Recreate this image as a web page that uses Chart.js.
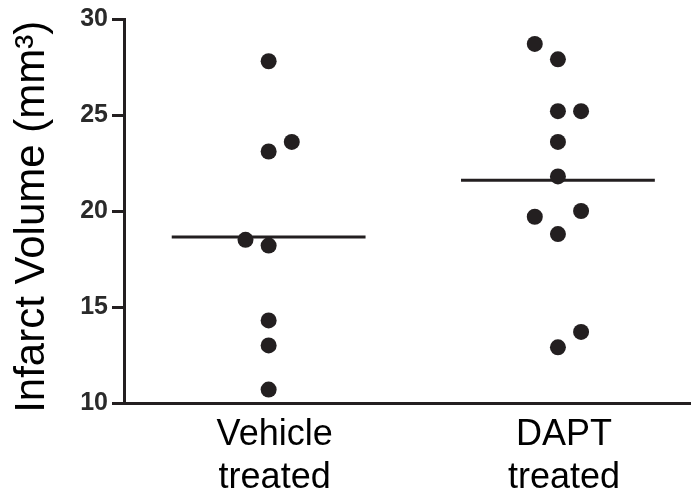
<!DOCTYPE html>
<html>
<head>
<meta charset="utf-8">
<script src="https://cdn.jsdelivr.net/npm/chart.js@4"></script>
<style>
  html, body { margin: 0; padding: 0; background: #fff; }
  #wrap { width: 691px; height: 496px; }
</style>
</head>
<body>
<div id="wrap"><canvas id="chart" width="691" height="496"></canvas></div>
<script>
// groups on the x axis (position 1 and 2)
const categories = [['Vehicle', 'treated'], ['DAPT', 'treated']];

// infarct volumes (mm3)
const vehicleValues = [27.8, 23.1, 23.6, 18.5, 18.2, 14.3, 13.0, 10.7];
const vehicleSpread = [0, 0, 0.08, -0.08, 0, 0, 0, 0];
const daptValues = [28.7, 27.9, 25.2, 25.2, 23.6, 21.8, 19.7, 20.0, 18.8, 13.7, 12.9];
const daptSpread = [-0.08, 0, 0, 0.08, 0, 0, -0.08, 0.08, 0, 0.08, 0];

// group mean lines
const meanValues = [18.65, 21.6];
const meanHalfWidth = 0.335;

const yTicks = [10, 15, 20, 25, 30];

const ink = '#231f20';
const fontFamily = '"Liberation Sans", Arial, Helvetica, sans-serif';

function points(values, spread, pos) {
  return values.map((v, i) => ({ x: pos + spread[i], y: v }));
}

const datasets = [
  {
    type: 'scatter',
    data: points(vehicleValues, vehicleSpread, 1),
    backgroundColor: ink,
    borderColor: ink,
    pointRadius: 8,
    borderWidth: 0
  },
  {
    type: 'scatter',
    data: points(daptValues, daptSpread, 2),
    backgroundColor: ink,
    borderColor: ink,
    pointRadius: 8,
    borderWidth: 0
  }
];

meanValues.forEach((m, i) => {
  datasets.push({
    type: 'line',
    data: [{ x: i + 1 - meanHalfWidth, y: m }, { x: i + 1 + meanHalfWidth, y: m }],
    borderColor: ink,
    borderWidth: 3,
    pointRadius: 0,
    fill: false
  });
});

new Chart(document.getElementById('chart').getContext('2d'), {
  type: 'scatter',
  data: { datasets: datasets },
  options: {
    responsive: false,
    animation: false,
    layout: { autoPadding: false, padding: { top: 19, right: 0, left: 0, bottom: 0 } },
    plugins: { legend: { display: false }, tooltip: { enabled: false } },
    scales: {
      x: {
        type: 'linear',
        min: 0.5,
        max: 2.46,
        afterBuildTicks: (scale) => { scale.ticks = categories.map((c, i) => ({ value: i + 1 })); },
        afterFit: (scale) => {
          scale.height = 93;
          scale.paddingLeft = 0;
          scale.paddingRight = 0;
        },
        grid: { display: false, drawTicks: false },
        border: { display: true, width: 3, color: ink },
        ticks: {
          padding: 10,
          labelOffset: 6,
          color: '#000',
          font: { family: fontFamily, size: 36, lineHeight: 1.2 },
          callback: (v) => categories[Math.round(v) - 1] || ''
        }
      },
      y: {
        min: 10,
        max: 30,
        afterBuildTicks: (scale) => { scale.ticks = yTicks.map(v => ({ value: v })); },
        afterFit: (scale) => { scale.width = 124; },
        grid: {
          drawOnChartArea: false,
          drawTicks: true,
          tickLength: 12,
          tickWidth: 3,
          tickColor: ink
        },
        border: { display: true, width: 3, color: ink },
        ticks: {
          padding: 4,
          color: '#2a2a2a',
          font: { family: fontFamily, size: 25, weight: 'bold' }
        },
        title: {
          display: true,
          // trailing space nudges the centred title a few pixels down, as in the original
          text: 'Infarct Volume (mm³) ',
          color: '#000',
          padding: { top: 8, bottom: 0 },
          font: { family: fontFamily, size: 42, lineHeight: 1.15 }
        }
      }
    }
  }
});
</script>
</body>
</html>
